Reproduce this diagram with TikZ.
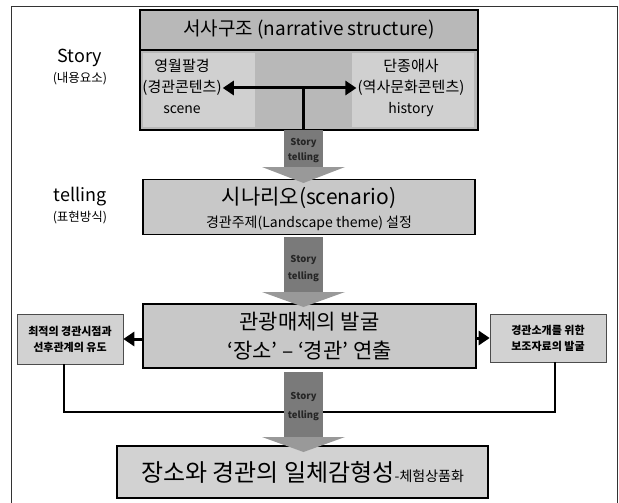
\documentclass[tikz,border=0pt]{standalone}
\usepackage{fontspec}
\setmainfont{Noto Sans CJK KR}
\usetikzlibrary{arrows.meta}
\definecolor{topfill}{HTML}{B8B8B8}
\definecolor{subfill}{HTML}{D0D0D0}
\definecolor{boxfill}{HTML}{C8C8C8}
\definecolor{sidefill}{HTML}{D2D2D2}
\definecolor{shaftfill}{HTML}{7A7A7A}
\definecolor{headfill}{HTML}{999999}
\tikzset{
  mainbox/.style={draw=black, line width=1.6pt, fill=boxfill, inner sep=0pt, align=center},
  sidebox/.style={draw=black!70, line width=0.6pt, fill=sidefill, inner sep=0pt, align=center, font=\fontsize{11}{15}\selectfont\bfseries},
  subarea/.style={fill=subfill, inner sep=0pt, draw=none},
  plain/.style={inner sep=0pt, align=center},
  flowlabel/.style={inner sep=0pt, font=\fontsize{9.5}{11}\selectfont\bfseries, text=black!85},
  bigtip/.style={Triangle[length=11pt,width=14pt]},
  thickarrow/.style={line width=3pt, -{Triangle[length=11pt,width=14pt]}},
  link/.style={line width=1.3pt}
}
\begin{document}
\begin{tikzpicture}[x=1pt,y=-1pt]
\useasboundingbox (0,0) rectangle (619,503);
% outer frame
\draw[line width=1pt, black!80] (11,510) -- (11,7) -- (617,7) -- (617,510);

% top box
\node[mainbox, fill=topfill, minimum width=338pt, minimum height=120pt] (top) at (309,70) {};
\draw[line width=1.2pt] (140,50) -- (478,50);
\node[subarea, minimum width=112pt, minimum height=74pt] (subL) at (199,90) {};
\node[subarea, minimum width=122pt, minimum height=74pt] (subR) at (413,90) {};
\node[plain, font=\fontsize{19}{22}\selectfont] (title) at (309,30) {서사구조 (narrative structure)};
\node[plain, font=\fontsize{15}{18}\selectfont] (l1) at (182,66) {영월팔경};
\node[plain, font=\fontsize{15}{18}\selectfont] (l2) at (182,88) {(경관콘텐츠)};
\node[plain, font=\fontsize{14}{17}\selectfont] (l3) at (182,110) {scene};
\node[plain, font=\fontsize{15}{18}\selectfont] (r1) at (411,66) {단종애사};
\node[plain, font=\fontsize{15}{18}\selectfont] (r2) at (411,88) {(역사문화콘텐츠)};
\node[plain, font=\fontsize{14}{17}\selectfont] (r3) at (411,110) {history};

% left labels
\node[plain, font=\fontsize{18}{21}\selectfont] (story) at (80,58) {Story};
\node[plain, font=\fontsize{12.5}{15}\selectfont] (storyk) at (80,79) {(내용요소)};
\node[plain, font=\fontsize{18}{21}\selectfont] (tell) at (80,197) {telling};
\node[plain, font=\fontsize{12.5}{15}\selectfont] (tellk) at (80,218) {(표현방식)};

% box 2
\node[mainbox, minimum width=332pt, minimum height=55pt] (scen) at (309,207) {};
\node[plain, font=\fontsize{21}{24}\selectfont] (s1) at (309,198) {시나리오(scenario)};
\node[plain, font=\fontsize{14}{17}\selectfont] (s2) at (309,223) {경관주제(Landscape theme) 설정};

% box 3
\node[mainbox, minimum width=333pt, minimum height=64pt] (media) at (309.5,336) {};
\node[plain, font=\fontsize{21}{24}\selectfont] (m1) at (309.5,322) {관광매체의 발굴};
\node[plain, font=\fontsize{21}{24}\selectfont] (m2) at (309.5,351) {‘장소’ – ‘경관’ 연출};

% side boxes
\node[sidebox, minimum width=106pt, minimum height=50pt] (left) at (70,339) {최적의 경관시점과\\[1pt]선후관계의 유도};
\node[sidebox, minimum width=116pt, minimum height=48pt] (right) at (548,338) {경관소개를 위한\\[1pt]보조자료의 발굴};

% box 4
\node[mainbox, fill=sidefill, minimum width=371pt, minimum height=52pt] (final) at (302.5,472) {};
\node[plain, font=\fontsize{24}{27}\selectfont] (f1) at (302.5,472) {장소와 경관의 일체감형성{\fontsize{14}{16}\selectfont -체험상품화}};

% link line below side boxes
\coordinate (bl) at (64,412);
\coordinate (br) at (555,412);
\draw[link] (left.south -| bl) -- (bl) -- (br) -- (right.south -| br);

% flow arrows
\foreach \n/\ya/\yb/\yt in {a1/130/167/183, a2/237/292/307, a3/372/437/452}{
  \fill[headfill] (262,\yb) -- (345,\yb) -- (303.5,\yt) -- cycle;
  \fill[shaftfill] (284,\ya) rectangle (323,\yb);
}
\node[flowlabel] (fa1) at (303.5,143) {Story};
\node[flowlabel] (fb1) at (303.5,158) {telling};
\node[flowlabel] (fa2) at (303.5,260) {Story};
\node[flowlabel] (fb2) at (303.5,277) {telling};
\node[flowlabel] (fa3) at (303.5,397) {Story};
\node[flowlabel] (fb3) at (303.5,416) {telling};

% double arrow with stem
\coordinate (stem) at (303.5,130);
\draw[line width=3pt, {Triangle[length=11pt,width=14pt]}-{Triangle[length=11pt,width=14pt]}] ([xshift=1pt]l2.east) -- ([xshift=-1pt]r2.west);
\draw[line width=2.2pt] (stem |- l2.east) -- (stem);

% side arrows
\draw[thickarrow] (media.west |- left.east) -- (left.east);
\draw[thickarrow] (media.east |- right.west) -- (right.west);
\end{tikzpicture}
\end{document}
